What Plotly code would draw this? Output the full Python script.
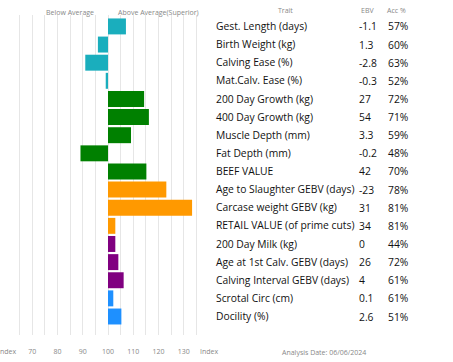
import plotly.graph_objects as go

traits = ["Gest. Length (days)", "Birth Weight (kg)", "Calving Ease (%)", "Mat.Calv. Ease (%)",
          "200 Day Growth (kg)", "400 Day Growth (kg)", "Muscle Depth (mm)", "Fat Depth (mm)",
          "BEEF VALUE", "Age to Slaughter GEBV (days)", "Carcase weight GEBV (kg)",
          "RETAIL VALUE (of prime cuts)", "200 Day Milk (kg)", "Age at 1st Calv. GEBV (days)",
          "Calving Interval GEBV (days)", "Scrotal Circ (cm)", "Docility (%)"]
ebv = ["-1.1", "1.3", "-2.8", "-0.3", "27", "54", "3.3", "-0.2", "42", "-23", "31", "34",
       "0", "26", "4", "0.1", "2.6"]
acc = ["57%", "60%", "63%", "52%", "72%", "71%", "59%", "48%", "70%", "78%", "81%", "81%",
       "44%", "72%", "61%", "61%", "51%"]
index_vals = [107.1, 96.0, 91.0, 99.1, 114.3, 116.2, 109.1, 89.1, 115.2, 123.1, 133.3, 102.9,
              102.9, 104.1, 106.2, 102.1, 105.3]
groups = ["calving"] * 4 + ["growth"] * 5 + ["carcase"] * 3 + ["maternal"] * 3 + ["other"] * 2
tick_vals = [60, 70, 80, 90, 100, 110, 120, 130, 140]
tick_text = ["Index", "70", "80", "90", "100", "110", "120", "130", "Index"]

group_colors = {"calving": "#1aaebd", "growth": "#008000", "carcase": "#ff9900",
                "maternal": "#800080", "other": "#1e90ff"}

W, H = 453, 362
FONT = "Open Sans"
FS = 10.3

fig = go.Figure()
fig.add_trace(go.Bar(
    y=traits,
    x=[v - 100 for v in index_vals],
    base=100,
    orientation="h",
    width=0.88,
    marker=dict(color=[group_colors[g] for g in groups], line=dict(width=0)),
    hoverinfo="skip",
))

x0, x1 = 7, 209
ytop, ybot = 15, 335
fig.update_layout(
    width=W, height=H,
    margin=dict(l=0, r=0, t=0, b=0),
    paper_bgcolor="white", plot_bgcolor="white",
    showlegend=False,
    font=dict(family=FONT, color="#222"),
    xaxis=dict(
        domain=[x0 / W, x1 / W],
        range=[60, 140],
        tickvals=tick_vals, ticktext=tick_text,
        tickfont=dict(size=7, color="#888"),
        showgrid=True, gridcolor="#e6e6e6", gridwidth=1,
        minor=dict(dtick=5, tick0=60, showgrid=True, gridcolor="#e6e6e6", gridwidth=1),
        zeroline=False, showline=False, ticks="",
        ticklabelstandoff=11,
        ticklabeloverflow="allow",
        automargin=False, fixedrange=True,
    ),
    yaxis=dict(
        domain=[1 - ybot / H, 1 - ytop / H],
        range=[17.02, -0.63],
        side="right",
        showgrid=False, zeroline=False, showline=False, ticks="",
        tickfont=dict(size=FS, color="#111", family=FONT),
        ticklabelstandoff=6,
        automargin=False, fixedrange=True,
    ),
)

# header labels
small = dict(size=7, color="#888", family=FONT)
fig.add_annotation(x=70 / W, y=1 - 12 / H, xref="paper", yref="paper", text="Below Average",
                   showarrow=False, font=small, xanchor="center", yanchor="middle")
fig.add_annotation(x=158 / W, y=1 - 12 / H, xref="paper", yref="paper", text="Above Average(Superior)",
                   showarrow=False, font=small, xanchor="center", yanchor="middle")
fig.add_annotation(x=285 / W, y=1 - 11 / H, xref="paper", yref="paper", text="Trait",
                   showarrow=False, font=small, xanchor="center", yanchor="middle")
fig.add_annotation(x=367 / W, y=1 - 11 / H, xref="paper", yref="paper", text="EBV",
                   showarrow=False, font=small, xanchor="center", yanchor="middle")
fig.add_annotation(x=396 / W, y=1 - 11 / H, xref="paper", yref="paper", text="Acc %",
                   showarrow=False, font=small, xanchor="center", yanchor="middle")
fig.add_annotation(x=324 / W, y=1 - 352 / H, xref="paper", yref="paper",
                   text="Analysis Date: 06/06/2024",
                   showarrow=False, font=small, xanchor="center", yanchor="middle")

# EBV and accuracy columns
for t, e, a in zip(traits, ebv, acc):
    fig.add_annotation(x=357 / W, y=t, xref="paper", yref="y", text=e, showarrow=False,
                       font=dict(size=FS, color="#111", family=FONT), xanchor="left", yanchor="middle")
    fig.add_annotation(x=386 / W, y=t, xref="paper", yref="y", text=a, showarrow=False,
                       font=dict(size=FS, color="#111", family=FONT), xanchor="left", yanchor="middle")

fig.write_html("out.html", config={"displayModeBar": False, "staticPlot": True},
               post_script="document.body.style.margin='0';document.body.style.overflow='hidden';")
